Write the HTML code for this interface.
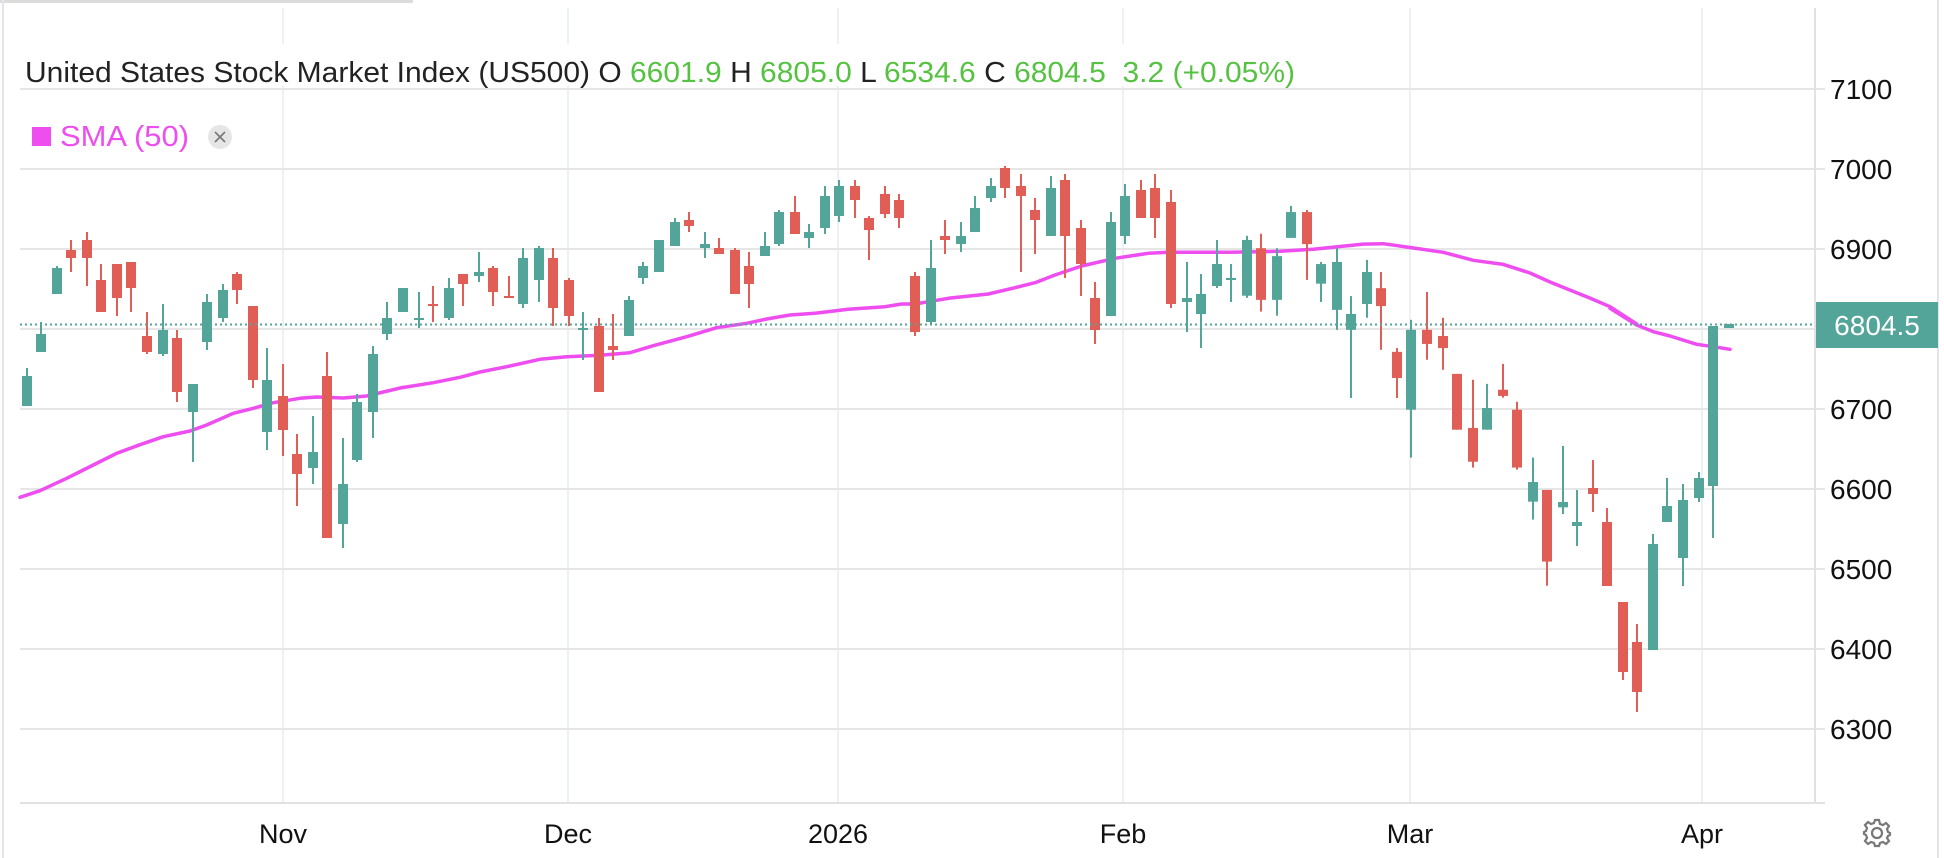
<!DOCTYPE html>
<html><head><meta charset="utf-8"><style>
html,body{margin:0;padding:0;background:#fff;}
body{width:1944px;height:858px;overflow:hidden;position:relative;font-family:"Liberation Sans",Arial,sans-serif;}
</style></head><body>
<svg id="c" width="1944" height="858" xmlns="http://www.w3.org/2000/svg" style="position:absolute;left:0;top:0">
<rect x="0" y="0" width="413" height="3" fill="#dcdcdc"/>
<line x1="3" y1="0" x2="3" y2="858" stroke="#e4e4ec" stroke-width="2"/>
<line x1="1938" y1="0" x2="1938" y2="858" stroke="#e4e4ec" stroke-width="2"/>
<g id="grid"></g>
<g id="sma"></g>
<g id="cand"></g>
<line x1="20" y1="324.5" x2="1815" y2="324.5" stroke="#53a59a" stroke-width="2" stroke-dasharray="2,3"/>
<rect x="20" y="44" width="1285" height="42" fill="#fff"/>
<text x="25" y="82" font-size="29" fill="#222" textLength="1270" lengthAdjust="spacingAndGlyphs" font-family="Liberation Sans, Arial, sans-serif">United States Stock Market Index (US500) O <tspan fill="#56c241">6601.9</tspan> H <tspan fill="#56c241">6805.0</tspan> L <tspan fill="#56c241">6534.6</tspan> C <tspan fill="#56c241">6804.5</tspan>&#160;&#160;<tspan fill="#56c241">3.2 (+0.05%)</tspan></text>
<rect x="32" y="127" width="19" height="19" fill="#ee4df0"/>
<text x="60" y="146" font-size="29" fill="#ee4df0" textLength="129" lengthAdjust="spacingAndGlyphs" font-family="Liberation Sans, Arial, sans-serif">SMA (50)</text>
<circle cx="220" cy="137" r="12" fill="#e6e6e6"/>
<path d="M215 132 L225 142 M225 132 L215 142" stroke="#777" stroke-width="1.6"/>
<line x1="1815" y1="8" x2="1815" y2="803" stroke="#e2e2e2" stroke-width="2"/>
<line x1="20" y1="803" x2="1825" y2="803" stroke="#e2e2e2" stroke-width="2"/>
<g id="ylab" font-size="28" fill="#111" font-family="Liberation Sans, Arial, sans-serif"></g>
<rect x="1816" y="302" width="122" height="46" fill="#53a59a"/>
<text x="1877" y="335" font-size="28" fill="#fff" text-anchor="middle" font-family="Liberation Sans, Arial, sans-serif">6804.5</text>
<g font-size="27" fill="#111" text-anchor="middle" font-family="Liberation Sans, Arial, sans-serif">
<text x="283" y="843">Nov</text><text x="568" y="843">Dec</text><text x="838" y="843">2026</text>
<text x="1123" y="843">Feb</text><text x="1410" y="843">Mar</text><text x="1702" y="843">Apr</text>
</g>
<g transform="translate(1877,833)" fill="none" stroke="#777" stroke-width="2.2">
<circle r="5"/>
<path d="M-2,-13 L2,-13 L3,-9 L6,-8 L9,-10 L12,-7 L10,-4 L11,-1 L13,0 L13,2 L11,3 L10,5 L12,8 L9,11 L6,9 L3,10 L2,13 L-2,13 L-3,10 L-6,9 L-9,11 L-12,8 L-10,5 L-11,2 L-13,1 L-13,-1 L-11,-2 L-10,-5 L-12,-8 L-9,-11 L-6,-9 L-3,-10 Z"/>
</g>
</svg>
<script>
var NS="http://www.w3.org/2000/svg";
function el(p,t,a){var e=document.createElementNS(NS,t);for(var k in a)e.setAttribute(k,a[k]);p.appendChild(e);return e;}
var grid=document.getElementById('grid');
[283,568,838,1123,1410,1702].forEach(function(x){el(grid,'line',{x1:x,y1:8,x2:x,y2:803,stroke:'#edf1f5','stroke-width':2});});
var yl=document.getElementById('ylab');
for(var p=7100;p>=6300;p-=100){var y=169+(7000-p)*0.8;el(grid,'line',{x1:20,y1:y,x2:1825,y2:y,stroke:'#e6e6e6','stroke-width':2});
 if(p!==6800){var t=el(yl,'text',{x:1830,y:y+10});t.textContent=p;}}
var G=[
 {x0:0,y0:150,fx:3,fy:3,c:[
 [81,'G',678,768,654,768],[123,'G',552,606,516,606],[171,'G',354,432,348,432],[213,'R',300,324,270,366],[261,'R',270,324,246,408],
 [303,'R',390,486,342,486],[351,'R',342,444,342,498],[393,'R',336,414,336,486],[441,'R',558,606,486,612],[489,'G',540,612,462,618],
 [531,'R',564,726,540,756],[579,'G',702,786,702,936],[621,'G',456,576,432,600],[669,'G',420,504,402,516],[711,'R',372,420,366,462],
 [759,'R',468,690,468,714],[801,'G',690,846,594,900],[849,'R',738,840,642,918],[891,'R',912,972,852,1068],[939,'G',906,954,798,1002],
 [981,'R',678,1164,606,1164],[1029,'G',1002,1122,864,1194],[1071,'G',756,930,732,936],[1119,'G',612,786,588,864],[1161,'G',504,552,456,570],
 [1209,'G',414,486,414,486]]},
 {x0:400,y0:150,fx:3,fy:3,c:[
 [57,'G',504,510,426,534],[99,'R',462,468,408,516],[147,'G',414,504,384,510],[189,'R',372,402,372,468],[237,'G',366,378,306,396],
 [279,'R',354,426,348,468],[327,'R',438,444,378,444],[369,'G',324,462,294,474],[417,'G',294,390,288,456],[459,'R',324,474,294,528],
 [507,'R',390,498,384,528],[549,'G',534,540,486,630],[597,'R',528,726,504,726],[639,'R',588,600,492,630],[687,'G',450,558,438,558],
 [729,'G',348,384,336,402],[777,'G',270,366,270,366],[825,'G',216,288,204,288],[867,'R',210,228,186,246],[915,'G',282,294,246,324],
 [957,'R',294,312,264,312],[1005,'R',300,432,294,432],[1047,'R',348,402,306,474],[1095,'G',288,318,246,318],[1137,'G',186,282,180,288],
 [1185,'R',186,252,138,252],[1227,'G',246,264,222,294]]},
 {x0:815,y0:150,fx:3,fy:3,c:[
 [30,'G',138,234,108,252],[72,'G',108,198,90,216],[120,'R',108,150,90,204],[162,'R',204,240,198,330],[210,'R',132,192,108,204],
 [252,'R',150,204,132,234],[300,'R',378,546,366,558],[348,'G',354,516,270,522],[390,'R',258,270,210,312],[438,'G',258,282,216,306],
 [480,'G',174,246,138,246],[528,'G',108,144,84,156],[570,'R',54,114,48,144],[618,'R',108,138,72,366],[660,'R',180,210,144,312],
 [708,'G',114,258,78,258],[750,'R',90,258,72,384],[798,'R',234,342,210,438],[840,'R',444,540,396,582],[888,'G',216,498,186,498],
 [930,'G',138,258,102,282],[978,'R',120,204,90,204],[1020,'R',114,204,72,264],[1068,'R',156,462,120,474],[1116,'G',444,456,336,546],
 [1158,'G',432,492,372,594],[1206,'G',342,408,270,414],[1248,'G',384,390,342,456]]},
 {x0:1230,y0:200,fx:3,fy:2.904,c:[
 [51,'G',116,278,104,284],[93,'R',140,290,98,324],[141,'G',163,290,140,336],[183,'G',35,110,17,110],[231,'R',35,128,29,232],
 [273,'G',186,243,180,296],[321,'G',180,319,140,377],[363,'G',331,377,279,575],[411,'G',209,302,174,342],[453,'R',256,308,209,435],
 [501,'R',441,517,430,575],[543,'G',377,609,348,748],[591,'R',377,418,267,464],[639,'R',395,430,342,493],[681,'R',505,667,505,667],
 [729,'R',662,760,522,777],[771,'G',604,667,534,667],[819,'R',551,569,476,574],[861,'R',609,777,586,783],[909,'G',819,876,748,928],
 [951,'R',842,1050,842,1120]]},
 {x0:1560,y0:300,fx:3,fy:3,c:[
 [9,'G',606,622,438,642],[51,'G',666,678,570,738],[99,'R',564,582,480,636],[141,'R',666,858,624,858],[189,'R',906,1116,906,1140],
 [231,'R',1026,1176,972,1236],[279,'G',732,1050,702,1050],[321,'G',618,666,534,666],[369,'G',600,774,552,858],[417,'G',534,594,516,606],
 [459,'G',78,558,78,714],[507,'G',72,84,72,84]]}
];
var cg=document.getElementById('cand');
G.forEach(function(g){g.c.forEach(function(d){
 var x=g.x0+d[0]/g.fx, col=d[1]=='G'?'#53a59a':'#e05e56';
 var bt=g.y0+d[2]/g.fy, bb=g.y0+d[3]/g.fy, wt=g.y0+d[4]/g.fy, wb=g.y0+d[5]/g.fy;
 el(cg,'rect',{x:x-1,y:wt,width:2,height:Math.max(1,wb-wt),fill:col});
 el(cg,'rect',{x:x-5,y:bt,width:10,height:Math.max(2,bb-bt),fill:col});
});});
var S=[
 {x0:0,y0:150,fx:3,fy:3,p:[[60,1042],[120,1022],[200,985],[280,945],[350,910],[420,884],[490,860],[570,843],[620,825],[700,790],[760,775],[820,758],[900,745],[950,741],[1030,744],[1100,738],[1150,726],[1210,712]]},
 {x0:400,y0:150,fx:3,fy:3,p:[[0,714],[100,698],[180,682],[240,666],[320,650],[420,628],[500,620],[600,616],[690,608],[760,587],[860,560],[950,533],[1040,520],[1100,507],[1170,495]]},
 {x0:815,y0:150,fx:3,fy:3,p:[[0,490],[100,478],[210,470],[260,462],[300,462],[400,445],[520,432],[600,413],[660,398],[720,375],[800,348],[900,325],[1000,310],[1060,307],[1200,307]]},
 {x0:1230,y0:200,fx:3,fy:2.904,p:[[0,152],[150,149],[250,143],[400,128],[460,127],[540,138],[640,152],[730,175],[820,187],[900,212],[960,238],[1080,285],[1140,310],[1220,360]]},
 {x0:1560,y0:300,fx:3,fy:3,p:[[150,25],[230,75],[280,95],[330,108],[410,133],[460,140],[510,148]]}
];
var pts=[];S.forEach(function(g){g.p.forEach(function(q){pts.push((g.x0+q[0]/g.fx).toFixed(1)+','+(g.y0+q[1]/g.fy).toFixed(1));});});
el(document.getElementById('sma'),'polyline',{points:pts.join(' '),fill:'none',stroke:'#ee4df0','stroke-width':3.5,'stroke-linejoin':'round','stroke-linecap':'round'});
</script>
</body></html>
